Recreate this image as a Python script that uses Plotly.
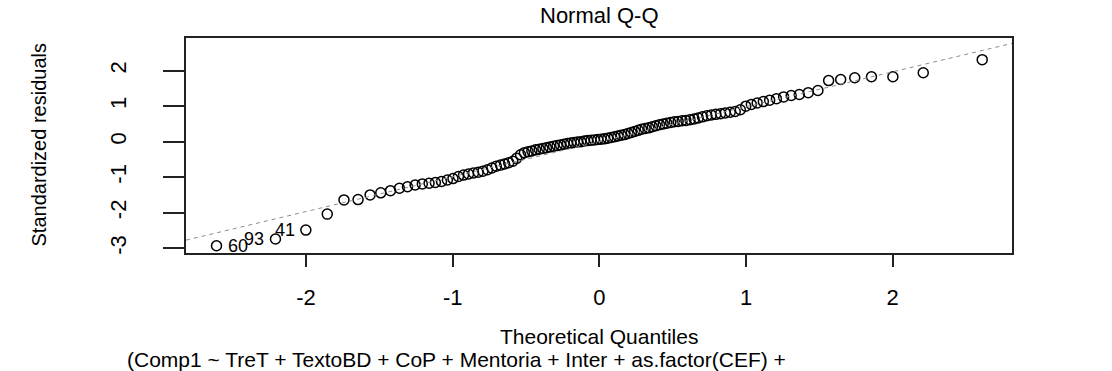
import plotly.graph_objects as go

# Theoretical normal quantiles (x) and sorted standardized residuals (y)
theoretical_q = [
    -2.610, -2.208, -2.001, -1.855, -1.741, -1.645, -1.563, -1.490, -1.424, -1.363,
    -1.308, -1.256, -1.207, -1.161, -1.118, -1.076, -1.036, -0.998, -0.961, -0.926,
    -0.892, -0.858, -0.826, -0.794, -0.763, -0.733, -0.703, -0.674, -0.646, -0.618,
    -0.590, -0.564, -0.537, -0.511, -0.486, -0.460, -0.435, -0.410, -0.385, -0.361,
    -0.337, -0.312, -0.288, -0.265, -0.241, -0.218, -0.195, -0.172, -0.149, -0.126,
    -0.103, -0.080, -0.057, -0.034, -0.011,
    0.011, 0.034, 0.057, 0.080, 0.103, 0.126, 0.149, 0.172, 0.195, 0.218,
    0.241, 0.265, 0.288, 0.312, 0.337, 0.361, 0.385, 0.410, 0.435, 0.460,
    0.486, 0.511, 0.537, 0.564, 0.590, 0.618, 0.646, 0.674, 0.703, 0.733,
    0.763, 0.794, 0.826, 0.858, 0.892, 0.926, 0.961, 0.998, 1.036, 1.076,
    1.118, 1.161, 1.207, 1.256, 1.308, 1.363, 1.424, 1.490, 1.563, 1.645,
    1.741, 1.855, 2.001, 2.208, 2.610,
]
std_resid = [
    -2.93, -2.74, -2.49, -2.04, -1.64, -1.63, -1.50, -1.44, -1.38, -1.31,
    -1.27, -1.22, -1.19, -1.17, -1.15, -1.12, -1.08, -1.04, -0.98, -0.94,
    -0.91, -0.88, -0.86, -0.83, -0.79, -0.74, -0.69, -0.66, -0.63, -0.59,
    -0.55, -0.47, -0.37, -0.31, -0.28, -0.26, -0.23, -0.21, -0.19, -0.17,
    -0.15, -0.13, -0.11, -0.09, -0.07, -0.05, -0.04, -0.02, -0.01, 0.00,
    0.02, 0.03, 0.04, 0.05, 0.06,
    0.07, 0.08, 0.10, 0.12, 0.14, 0.16, 0.18, 0.20, 0.23, 0.26,
    0.29, 0.32, 0.35, 0.37, 0.39, 0.42, 0.45, 0.48, 0.50, 0.52,
    0.54, 0.56, 0.57, 0.59, 0.60, 0.62, 0.64, 0.67, 0.70, 0.73,
    0.75, 0.77, 0.79, 0.81, 0.83, 0.85, 0.90, 1.00, 1.05, 1.09,
    1.13, 1.17, 1.21, 1.26, 1.30, 1.33, 1.38, 1.44, 1.72, 1.75,
    1.80, 1.83, 1.83, 1.94, 2.31,
]

# labelled extreme points: (index into arrays, label, side)
id_index = [0, 1, 2]
id_labels = ["60", "93", "41"]
id_side = ["right", "left", "left"]

# reference line (qqline)
qq_slope = 0.984
qq_intercept = 0.0

x_range = [-2.818, 2.813]
y_range = [-3.135, 2.92]
x_ticks = [-2, -1, 0, 1, 2]
x_ticklabels = ["-2", "-1", "0", "1", "2"]
y_ticks = [-3, -2, -1, 0, 1, 2]
y_ticklabels = ["-3", "-2", "-1", "0", "1", "2"]

title_text = "Normal Q-Q"
x_title = "Theoretical Quantiles"
y_title = "Standardized residuals"
sub_caption = "(Comp1 ~ TreT + TextoBD + CoP + Mentoria + Inter + as.factor(CEF) +"

FONT = "Liberation Sans, Arial, sans-serif"

fig = go.Figure()
fig.add_trace(go.Scatter(
    x=theoretical_q, y=std_resid, mode="markers",
    marker=dict(symbol="circle-open", size=10, color="black", line=dict(width=1.5, color="black")),
    showlegend=False, hoverinfo="x+y",
))
fig.add_trace(go.Scatter(
    x=x_range, y=[qq_intercept + qq_slope * v for v in x_range], mode="lines",
    line=dict(color="#8c8c8c", width=1, dash="4px,4px"),
    showlegend=False, hoverinfo="skip",
))

for idx, lab, side in zip(id_index, id_labels, id_side):
    fig.add_annotation(
        x=theoretical_q[idx], y=std_resid[idx], text=lab, showarrow=False,
        xanchor="left" if side == "right" else "right",
        xshift=9 if side == "right" else -9, yanchor="middle",
        font=dict(family=FONT, size=18, color="black"),
    )

# titles (pixel positions relative to the plotting frame)
fig.add_annotation(x=0.5, xref="paper", y=1, yref="paper", yanchor="middle", yshift=23,
                   text=title_text, showarrow=False, font=dict(family=FONT, size=22, color="black"))
fig.add_annotation(x=0.5, xref="paper", y=0, yref="paper", yanchor="middle", yshift=-83,
                   text=x_title, showarrow=False, font=dict(family=FONT, size=21, color="black"))
fig.add_annotation(x=0.5, xref="paper", y=0, yref="paper", yanchor="middle", yshift=-106,
                   xshift=-143, text=sub_caption, showarrow=False,
                   font=dict(family=FONT, size=21, color="black"))
fig.add_annotation(x=0, xref="paper", y=0.5, yref="paper", xanchor="center", xshift=-148,
                   text=y_title, textangle=-90, showarrow=False,
                   font=dict(family=FONT, size=20, color="black"))

fig.update_layout(
    width=1112, height=371,
    margin=dict(l=186, r=100, t=38, b=118, autoexpand=False),
    paper_bgcolor="white", plot_bgcolor="white",
    font=dict(family=FONT, size=22, color="black"),
    xaxis=dict(range=x_range, tickvals=x_ticks, ticktext=x_ticklabels, ticks="outside",
               ticklen=12, tickwidth=2, tickcolor="#222", showgrid=False, zeroline=False,
               showline=True, mirror=True, linecolor="#222", linewidth=1.5,
               tickfont=dict(family=FONT, size=22), ticklabelstandoff=12, automargin=False),
    yaxis=dict(range=y_range, tickvals=y_ticks, ticktext=y_ticklabels, ticks="outside",
               ticklen=21, tickwidth=2, tickcolor="#222", showgrid=False, zeroline=False,
               showline=True, mirror=True, linecolor="#222", linewidth=1.5, tickangle=-90,
               tickfont=dict(family=FONT, size=22), ticklabelstandoff=28, automargin=False),
)

# remove the default page margin so the figure sits at the window's top-left corner
fig.write_html("out.html", config={"displayModeBar": False},
               post_script="document.body.style.margin='0';")
